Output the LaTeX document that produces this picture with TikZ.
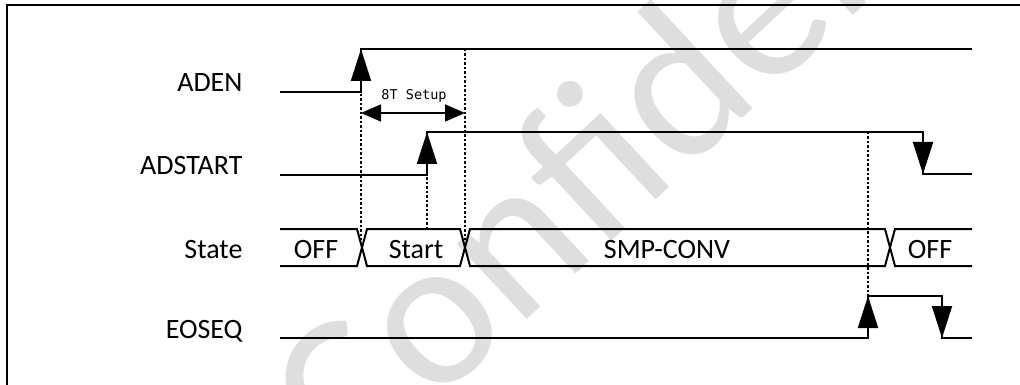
\documentclass[tikz,border=0pt]{standalone}
\usepackage{fontspec}
\setmainfont{Carlito}
\newfontfamily\setupfont{DejaVu Sans Mono}
\usetikzlibrary{arrows.meta}
\tikzset{
  wave/.style={line width=2pt},
  edge/.style={line width=2pt,-{Triangle[length=32pt,width=20pt]}},
  guide/.style={line width=2pt,dash pattern=on 2.5pt off 2pt},
  signame/.style={anchor=base east,font=\fontsize{28}{30}\selectfont},
  statename/.style={anchor=base,font=\fontsize{28}{30}\selectfont},
}
\begin{document}
\begin{tikzpicture}[x=1pt,y=-1pt]
    \useasboundingbox (0,0) rectangle (1020,385);
    \clip (0,0) rectangle (1020,385);
    % watermark
    \node[text=black!13,rotate=43,anchor=base west,inner sep=0pt,
          font=\fontsize{215}{215}\selectfont] (mark) at (350,485) {Confidential};
    % frame
    \draw[line width=2pt] (6.5,385) -- (6.5,5.5) -- (1020,5.5);
    % signal names
    \node[signame] (aden) at (246,92) {ADEN};
    \node[signame] (adstart) at (246,175) {ADSTART};
    \node[signame] (state) at (246,258) {State};
    \node[signame] (eoseq) at (246,338) {EOSEQ};
    % waveforms
    \draw[wave] (280,92) -- (361,92) -- (361,49) -- (972,49);
    \draw[wave] (280,175) -- (427,175) -- (427,132) -- (923,132) -- (923,174) -- (972,174);
    \draw[wave] (280,338) -- (868,338) -- (868,296) -- (942,296) -- (942,338) -- (972,338);
    \draw[wave] (280,229) -- (357,229) -- (367,266) -- (460,266) -- (470,229) -- (885,229) -- (895,266) -- (972,266);
    \draw[wave] (280,266) -- (357,266) -- (367,229) -- (460,229) -- (470,266) -- (885,266) -- (895,229) -- (972,229);
    % edges
    \draw[edge] (361,92) -- (361,49);
    \draw[edge] (427,175) -- (427,132);
    \draw[edge] (923,132) -- (923,174);
    \draw[edge] (868,338) -- (868,296);
    \draw[edge] (942,296) -- (942,338);
    % guides
    \draw[guide] (361,94) -- (361,240);
    \draw[guide] (465,49) -- (465,240);
    \draw[guide] (427,177) -- (427,229);
    \draw[guide] (868,132) -- (868,296);
    % setup time
    \draw[line width=1.6pt,{Triangle[length=20pt,width=17pt]}-{Triangle[length=20pt,width=17pt]}]
        (361,113) -- (465,113);
    \node[anchor=base,font=\setupfont\fontsize{13.5}{14}\selectfont] (setup) at (414,100) {8T Setup};
    % states
    \node[statename] (off1) at (316,258) {OFF};
    \node[statename] (start) at (416,258) {Start};
    \node[statename] (conv) at (667,258) {SMP-CONV};
    \node[statename] (off2) at (930,258) {OFF};
\end{tikzpicture}
\end{document}
